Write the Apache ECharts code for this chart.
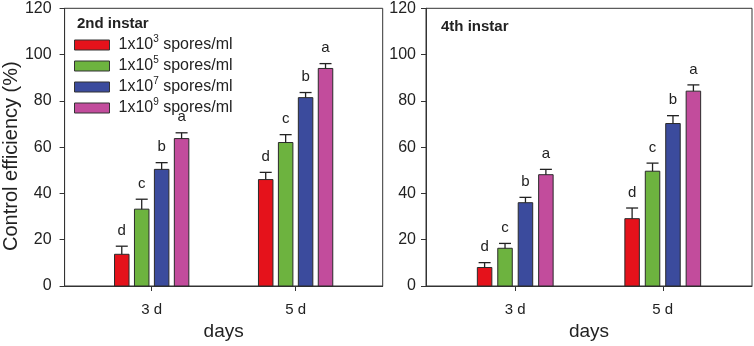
<!DOCTYPE html>
<html>
<head>
<meta charset="utf-8">
<script src="https://cdn.jsdelivr.net/npm/echarts@6/dist/echarts.min.js"></script>
<style>
  html, body { margin: 0; padding: 0; background: #fff; }
  #chart { width: 754px; height: 346px; }
</style>
</head>
<body>
<div id="chart"></div>
<script>
// data
const days = [3, 5];
const dayLabels = ['3 d', '5 d'];
const exponents = [3, 5, 7, 9];
const panelTitles = ['2nd instar', '4th instar'];

// rows = concentration, cols = day (3 d, 5 d)
const instar2Means = [[13.7, 46.0], [33.2, 62.0], [50.4, 81.4], [63.7, 94.0]];
const instar2Errs = [[3.5, 3.1], [4.3, 3.4], [2.9, 2.2], [2.5, 2.1]];
const instar2Letters = [['d', 'd'], ['c', 'c'], ['b', 'b'], ['a', 'a']];

const instar4Means = [[8.0, 29.1], [16.3, 49.6], [36.0, 70.2], [48.1, 84.2]];
const instar4Errs = [[2.1, 4.6], [2.1, 3.5], [2.3, 3.4], [2.3, 2.7]];
const instar4Letters = [['d', 'd'], ['c', 'c'], ['b', 'b'], ['a', 'a']];

const colors = ['#e5121b', '#6db33f', '#3b4b9d', '#c24c9c'];
const FONT = '"Liberation Sans", Arial, sans-serif';

const chart = echarts.init(document.getElementById('chart'));

function makeSeries(panel, means, errs, letters) {
  return exponents.map((e, i) => ({
    type: 'custom',
    name: '1x10^' + e + ' spores/ml',
    xAxisIndex: panel,
    yAxisIndex: panel,
    itemStyle: { color: colors[i] },
    encode: { x: 0, y: 1 },
    data: days.map((d, j) => [d, means[i][j], errs[i][j]]),
    renderItem(params, api) {
      const x = api.value(0), v = api.value(1), err = api.value(2);
      const pxDay = api.size([1, 0])[0];
      const off = (i - 1.5) * 0.277 * pxDay;
      const base = api.coord([x, 0]);
      const top = api.coord([x, v]);
      const cap = api.coord([x, v + err]);
      const cx = base[0] + off;
      const w = 14.5;
      return {
        type: 'group',
        children: [
          { type: 'rect', shape: { x: cx - w / 2, y: top[1], width: w, height: base[1] - top[1] },
            style: { fill: colors[i], stroke: '#2a2a2a', lineWidth: 1 } },
          { type: 'line', shape: { x1: cx, y1: top[1], x2: cx, y2: cap[1] },
            style: { stroke: '#222', lineWidth: 1.3 } },
          { type: 'line', shape: { x1: cx - 6, y1: cap[1], x2: cx + 6, y2: cap[1] },
            style: { stroke: '#222', lineWidth: 1.3 } },
          { type: 'text', x: cx, y: cap[1] - 8,
            style: { text: letters[i][params.dataIndex], fill: '#222', font: '15px ' + FONT,
                     align: 'center', verticalAlign: 'bottom' } }
        ]
      };
    }
  }));
}

function xAxis(panel) {
  return {
    type: 'value', gridIndex: panel, min: 1.79, max: 6.21,
    name: 'days', nameLocation: 'middle', nameGap: 36,
    nameTextStyle: { fontSize: 19, color: '#222', fontFamily: FONT },
    axisLine: { show: true, lineStyle: { color: '#333' } },
    axisTick: { show: true, length: 5, customValues: days, lineStyle: { color: '#333' } },
    axisLabel: { customValues: days, margin: 16, fontSize: 15, color: '#222', fontFamily: FONT,
                 formatter: v => dayLabels[days.indexOf(v)] },
    splitLine: { show: false }
  };
}

function yAxis(panel) {
  return {
    type: 'value', gridIndex: panel, min: 0, max: 120, interval: 20,
    name: panel === 0 ? 'Control efficiency (%)' : '',
    nameLocation: 'middle', nameGap: 38,
    nameTextStyle: { fontSize: 20, color: '#222', fontFamily: FONT, padding: [0, 18, 0, 0] },
    axisLine: { show: true, lineStyle: { color: '#333' } },
    axisTick: { show: true, length: 5, lineStyle: { color: '#333' } },
    axisLabel: { margin: panel === 0 ? 13 : 10, fontSize: 16, color: '#222', fontFamily: FONT },
    splitLine: { show: false }
  };
}

const option = {
  backgroundColor: '#fff',
  animation: false,
  title: [
    { text: panelTitles[0], left: 77, top: 16, padding: 0,
      textStyle: { fontSize: 15, fontWeight: 'bold', color: '#222', fontFamily: FONT } },
    { text: panelTitles[1], left: 441, top: 19, padding: 0,
      textStyle: { fontSize: 15, fontWeight: 'bold', color: '#222', fontFamily: FONT } }
  ],
  legend: {
    orient: 'vertical', left: 74, top: 34.5, padding: 0,
    itemWidth: 35, itemHeight: 10, itemGap: 0,
    icon: 'rect',
    itemStyle: { borderColor: '#333', borderWidth: 1 },
    data: exponents.map(e => '1x10^' + e + ' spores/ml'),
    formatter: name => name.replace(/\^(\d)/, '{sup|$1}'),
    textStyle: {
      fontSize: 16, color: '#222', fontFamily: FONT, lineHeight: 21, padding: [0, 0, 0, 4],
      rich: { sup: { fontSize: 10, verticalAlign: 'top', lineHeight: 21, color: '#222', fontFamily: FONT } }
    }
  },
  grid: [
    { left: 58, top: 8.3, width: 324.7, height: 280.4, show: true, borderColor: '#333', borderWidth: 1 },
    { left: 426, top: 8.3, width: 326, height: 280.4, show: true, borderColor: '#333', borderWidth: 1 }
  ],
  xAxis: [xAxis(0), xAxis(1)],
  yAxis: [yAxis(0), yAxis(1)],
  series: makeSeries(0, instar2Means, instar2Errs, instar2Letters)
    .concat(makeSeries(1, instar4Means, instar4Errs, instar4Letters))
};

chart.setOption(option);
window.addEventListener('resize', () => chart.resize());
</script>
</body>
</html>
